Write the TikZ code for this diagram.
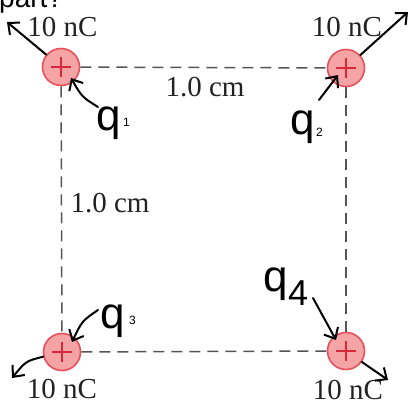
\documentclass[tikz,border=0pt]{standalone}
\usepackage{fontspec}
\setmainfont{Liberation Serif}
\newfontfamily\sansf{Liberation Sans}
\usetikzlibrary{arrows.meta}
\definecolor{chgfill}{HTML}{F4A4A4}
\definecolor{chgdraw}{HTML}{E5505C}
\definecolor{chgplus}{HTML}{D8283C}
\definecolor{dashgray}{HTML}{555555}
\definecolor{txt}{HTML}{222222}
\begin{document}
\begin{tikzpicture}[x=1pt,y=-1pt,
  charge/.style={circle,draw=chgdraw,fill=chgfill,line width=1.6pt,minimum size=37pt,inner sep=0pt,
    path picture={\draw[chgplus,line width=2.4pt]
      ([xshift=-10pt]path picture bounding box.center) -- ([xshift=10pt]path picture bounding box.center)
      ([yshift=-10pt]path picture bounding box.center) -- ([yshift=10pt]path picture bounding box.center);}},
  side/.style={draw=dashgray,line width=1.5pt,dash pattern=on 11pt off 7pt},
  val/.style={inner sep=0pt,anchor=base,text=txt,font=\fontsize{29}{32}\selectfont},
  hand/.style={draw=black,line width=2pt,line cap=round,line join=round,
    -{Straight Barb[length=9pt,width=16pt,line width=2pt]}},
  hq/.style={inner sep=0pt,anchor=base west,font=\sansf\fontsize{44}{46}\selectfont},
  hs/.style={inner sep=0pt,anchor=base west,font=\sansf\fontsize{12}{14}\selectfont}]
\clip (0,0) rectangle (412,401);
\useasboundingbox (0,0) rectangle (412,401);

% cut-off text at top
\node[inner sep=0pt,anchor=base west,font=\sansf\fontsize{28}{30}\selectfont] (part) at (-1,8) {part?};

% charges
\node[charge] (q1) at (61,67) {};
\node[charge] (q2) at (346,68) {};
\node[charge] (q3) at (62,352) {};
\node[charge] (q4) at (346,351) {};

% sides of the square
\draw[side] (q1) -- (q2);
\draw[side] (q1) -- (q3);
\draw[side] (q3) -- (q4);
\draw[side] (q2) -- (q4);

% values
\node[val] (v1) at (62.5,37) {10 nC};
\node[val] (v2) at (347,37) {10 nC};
\node[val] (v3) at (62,398) {10 nC};
\node[val] (v4) at (348,399) {10 nC};
\node[val] (d1) at (205,97) {1.0 cm};
\node[val] (d2) at (110,212) {1.0 cm};

% handwritten labels
\node[hq] (h1) at (96,131) {q};
\node[hs] (s1) at (123,127) {1};
\node[hq] (h2) at (290,135) {q};
\node[hs] (s2) at (316,136) {2};
\node[hq] (h3) at (100,328) {q};
\node[hs] (s3) at (129,324) {3};
\node[hq] (h4) at (263,291) {q};
\node[hs,font=\sansf\fontsize{36}{38}\selectfont] (s4) at (288,305) {4};

% handwritten arrows
\coordinate (o1) at (7,22);
\coordinate (o2) at (408,12);
\coordinate (o3) at (12,378);
\coordinate (o4) at (388,380);
\draw[hand] (q1) -- (o1);
\draw[hand] (q2) -- (o2);
\draw[hand] (q3) .. controls (26,361) .. (o3);
\draw[hand] (q4) -- (o4);

\coordinate (a1) at (98,107);  \coordinate (b1) at (71,78);
\coordinate (a2) at (319,100); \coordinate (b2) at (338,75);
\coordinate (a3) at (98,310);  \coordinate (b3) at (72,342);
\coordinate (a4) at (313,298); \coordinate (b4) at (336,340);
\draw[hand] (a1) .. controls (82,97) .. (b1);
\draw[hand] (a2) -- (b2);
\draw[hand] (a3) .. controls (82,321) .. (b3);
\draw[hand] (a4) -- (b4);
\end{tikzpicture}
\end{document}
